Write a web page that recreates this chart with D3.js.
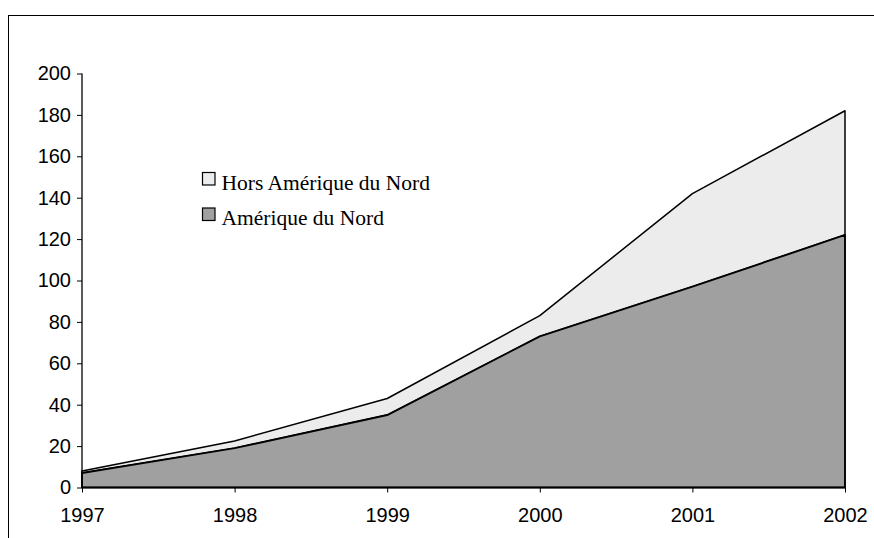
<!DOCTYPE html>
<html><head><meta charset="utf-8">
<script src="https://cdn.jsdelivr.net/npm/d3@7/dist/d3.min.js"></script>
<style>body{margin:0;background:#fff}svg{display:block}</style>
</head><body>
<svg id="c" width="874" height="538"></svg>
<script>
const years = ["1997","1998","1999","2000","2001","2002"];
const ameriqueNord = [7, 19, 35, 73, 97, 122];
const horsAmerique = [1, 3.5, 8, 10, 45, 60];
const yTicks = [0,20,40,60,80,100,120,140,160,180,200];
const seriesNames = ["Hors Amérique du Nord","Amérique du Nord"];

const svg = d3.select("#c");
svg.append("rect").attr("x",8.5).attr("y",15.5).attr("width",900).attr("height",600)
  .attr("fill","#fff").attr("stroke","#000").attr("stroke-width",1);

const x = d3.scalePoint().domain(years).range([82, 845]);
const y = d3.scaleLinear().domain([0,200]).range([487.5, 73.5]);

const data = years.map((yr,i)=>({year:yr, na:ameriqueNord[i], hors:horsAmerique[i]}));
const stack = d3.stack().keys(["na","hors"]);
const layers = stack(data);
const fills = {na:"#a0a0a0", hors:"#ececec"};
const widths = {na:1.9, hors:1.5};

const area = d3.area().x(d=>x(d.data.year)).y0(d=>y(d[0])).y1(d=>y(d[1]));
[layers[1], layers[0]].forEach(l=>{
  svg.append("path").datum(l).attr("d",area).attr("fill",fills[l.key])
    .attr("stroke","#000").attr("stroke-width",widths[l.key]).attr("stroke-linejoin","round");
});

const fontAx = "'Liberation Sans', Arial, sans-serif";
const yAxis = svg.append("g").attr("transform","translate(82,0)")
  .call(d3.axisLeft(y).tickValues(yTicks).tickSize(5).tickPadding(6).tickFormat(d3.format("d")));
const xAxis = svg.append("g").attr("transform","translate(0,487.5)")
  .call(d3.axisBottom(x).tickSize(5).tickPadding(15));
[yAxis,xAxis].forEach(a=>{
  a.select(".domain").attr("stroke","#000").attr("stroke-width",1.3);
  a.selectAll(".tick line").attr("stroke","#000");
  a.selectAll("text").attr("fill","#000").style("font-family",fontAx).style("font-size","20px");
});
yAxis.select(".domain").attr("d","M0,73.5V487.5");
xAxis.select(".domain").attr("d","M82,0H845");

// legend
const leg = svg.append("g");
const legKeys = ["hors","na"];
legKeys.forEach((k,i)=>{
  const gy = 172.5 + i*35.5;
  leg.append("rect").attr("x",202.5).attr("y",gy).attr("width",12.5).attr("height",12.5)
    .attr("fill",fills[k]).attr("stroke","#000").attr("stroke-width",1.2);
  leg.append("text").attr("x",221.5).attr("y",gy+17).text(seriesNames[i])
    .style("font-family","'Liberation Serif','Times New Roman',serif").style("font-size","21.5px").attr("fill","#000");
});
</script>
</body></html>
